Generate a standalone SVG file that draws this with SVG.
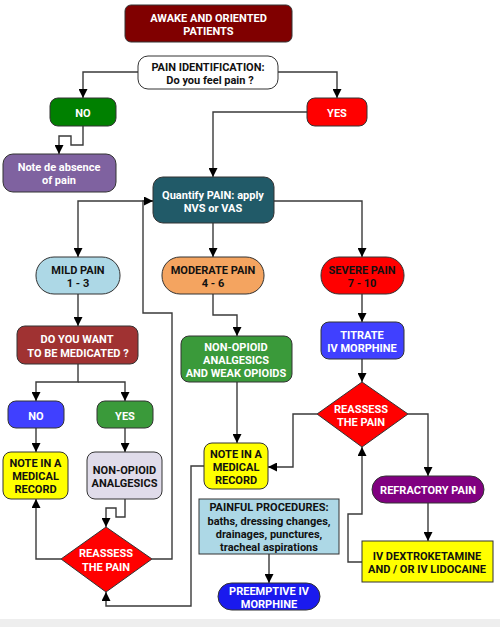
<svg xmlns="http://www.w3.org/2000/svg" width="500" height="627" viewBox="0 0 500 627">
<style>
text{font-family:Roboto,"Liberation Sans",sans-serif;font-weight:bold;font-size:11px;text-anchor:middle}
.w{fill:#fff}.k{fill:#111}
.n{stroke:#333;stroke-width:1}
.c{fill:none;stroke:#3a3a3a;stroke-width:1.4}
</style>
<defs>
<marker id="a" viewBox="0 0 10 10" refX="10" refY="5" markerWidth="9" markerHeight="9" markerUnits="userSpaceOnUse" orient="auto"><path d="M0,0 L10,5 L0,10 z" fill="#000"/></marker>
</defs>
<rect width="500" height="627" fill="#fff"/>
<rect y="619" width="500" height="8" fill="#eeeeee"/>
<g id="connectors">
<path class="c" d="M138,72 H83 V98" marker-end="url(#a)"/>
<path class="c" d="M278,72 H337 V98" marker-end="url(#a)"/>
<path class="c" d="M83,126 V145 H71 V136 H59 V154" marker-end="url(#a)"/>
<path class="c" d="M307,112 H213 V177" marker-end="url(#a)"/>
<path class="c" d="M153,201 H78 V257" marker-end="url(#a)"/>
<path class="c" d="M152,559 H172 V313 H143 V201 H153" marker-end="url(#a)"/>
<path class="c" d="M274,201 H362 V257" marker-end="url(#a)"/>
<path class="c" d="M213,223 V257" marker-end="url(#a)"/>
<path class="c" d="M78,294 V326" marker-end="url(#a)"/>
<path class="c" d="M213,294 V315 H237 V336" marker-end="url(#a)"/>
<path class="c" d="M362,294 V322" marker-end="url(#a)"/>
<path class="c" d="M362,359 V382" marker-end="url(#a)"/>
<path class="c" d="M78,364 V382 H36 V401" marker-end="url(#a)"/>
<path class="c" d="M78,382 H125 V401" marker-end="url(#a)"/>
<path class="c" d="M36,428 V452" marker-end="url(#a)"/>
<path class="c" d="M125,428 V452" marker-end="url(#a)"/>
<path class="c" d="M125,499 V517 H116 V508 H106 V527" marker-end="url(#a)"/>
<path class="c" d="M61,559 H36 V499" marker-end="url(#a)"/>
<path class="c" d="M204,466 H191 V606 H106 V592" marker-end="url(#a)"/>
<path class="c" d="M237,382 V443" marker-end="url(#a)"/>
<path class="c" d="M317,414 H293 V467 H268" marker-end="url(#a)"/>
<path class="c" d="M408,414 H428 V476" marker-end="url(#a)"/>
<path class="c" d="M428,503 V541" marker-end="url(#a)"/>
<path class="c" d="M362,562 H348 V514 H362 V447" marker-end="url(#a)"/>
<path class="c" d="M269,554 V583" marker-end="url(#a)"/>
</g>
<g id="awake"><rect class="n" x="125" y="5" width="167" height="37" rx="6" fill="#800000"/><text class="w" x="208.5" y="22">AWAKE AND ORIENTED</text><text class="w" x="208.5" y="35">PATIENTS</text></g>
<g id="painid"><rect class="n" x="138" y="56" width="140" height="33" rx="10" fill="#fff"/><text class="k" x="208" y="71">PAIN IDENTIFICATION:</text><text class="k" x="210" y="84">Do you feel pain ?</text></g>
<g id="no1"><rect class="n" x="50" y="98" width="66" height="28" rx="8" fill="#008000"/><text class="w" x="83" y="117">NO</text></g>
<g id="yes1"><rect class="n" x="307" y="98" width="60" height="28" rx="8" fill="#ff0000"/><text class="w" x="337" y="117">YES</text></g>
<g id="absence"><rect class="n" x="3" y="154" width="113" height="38" rx="10" fill="#7f62a0"/><text class="w" x="59" y="171">Note de absence</text><text class="w" x="59" y="184">of pain</text></g>
<g id="quantify"><rect class="n" x="153" y="177" width="121" height="46" rx="10" fill="#215a68"/><text class="w" x="213" y="199">Quantify PAIN: apply</text><text class="w" x="213" y="212">NVS or VAS</text></g>
<g id="mild"><rect class="n" x="36" y="257" width="84" height="37" rx="18" fill="#add8e6"/><text class="k" x="78" y="274">MILD PAIN</text><text class="k" x="78" y="287">1 - 3</text></g>
<g id="moderate"><rect class="n" x="162" y="257" width="102" height="37" rx="18" fill="#f4a460"/><text class="k" x="213" y="274">MODERATE PAIN</text><text class="k" x="213" y="287">4 - 6</text></g>
<g id="severe"><rect class="n" x="321" y="257" width="83" height="37" rx="18" fill="#ff0000"/><text class="k" x="362" y="274">SEVERE PAIN</text><text class="k" x="362" y="287">7 - 10</text></g>
<g id="wantmed"><rect class="n" x="17" y="326" width="121" height="38" rx="8" fill="#a03232"/><text class="w" x="77" y="343">DO YOU WANT</text><text class="w" x="78" y="357">TO BE MEDICATED ?</text></g>
<g id="nonopweak"><rect class="n" x="181" y="336" width="111" height="46" rx="8" fill="#3a9a3a"/><text class="w" x="236" y="351">NON-OPIOID</text><text class="w" x="236" y="364">ANALGESICS</text><text class="w" x="236" y="377">AND WEAK OPIOIDS</text></g>
<g id="titrate"><rect class="n" x="321" y="322" width="83" height="37" rx="8" fill="#4040ff"/><text class="w" x="362" y="339">TITRATE</text><text class="w" x="362" y="352">IV MORPHINE</text></g>
<g id="no2"><rect class="n" x="8" y="401" width="56" height="27" rx="8" fill="#4040ff"/><text class="w" x="36" y="420">NO</text></g>
<g id="yes2"><rect class="n" x="97" y="401" width="56" height="27" rx="8" fill="#3a9a3a"/><text class="w" x="125" y="420">YES</text></g>
<g id="note1"><rect class="n" x="3" y="452" width="65" height="47" rx="8" fill="#ffff00"/><text class="k" x="35.5" y="467">NOTE IN A</text><text class="k" x="35.5" y="480">MEDICAL</text><text class="k" x="35.5" y="493">RECORD</text></g>
<g id="nonop"><rect class="n" x="87" y="452" width="75" height="47" rx="8" fill="#e0dcea"/><text class="k" x="124.5" y="474">NON-OPIOID</text><text class="k" x="124.5" y="487">ANALGESICS</text></g>
<g id="reassess1"><path class="n" d="M106,527 L152,559 L106,592 L61,559 Z" fill="#ff0000"/><text class="w" x="106" y="557">REASSESS</text><text class="w" x="106" y="571">THE PAIN</text></g>
<g id="note2"><rect class="n" x="204" y="443" width="64" height="46" rx="8" fill="#ffff00"/><text class="k" x="236" y="458">NOTE IN A</text><text class="k" x="236" y="471">MEDICAL</text><text class="k" x="236" y="484">RECORD</text></g>
<g id="reassess2"><path class="n" d="M362,382 L408,414 L362,447 L317,414 Z" fill="#ff0000"/><text class="w" x="361" y="413">REASSESS</text><text class="w" x="361" y="426">THE PAIN</text></g>
<g id="refractory"><rect class="n" x="372" y="476" width="112" height="27" rx="13.5" fill="#800080"/><text class="w" x="428" y="494">REFRACTORY PAIN</text></g>
<g id="ivdextro"><rect class="n" x="362" y="541" width="131" height="41" fill="#ffff00"/><text class="k" x="427" y="560">IV DEXTROKETAMINE</text><text class="k" x="427" y="573">AND / OR IV LIDOCAINE</text></g>
<g id="painful"><rect class="n" x="199" y="499" width="140" height="55" fill="#add8e6"/><text class="k" x="269" y="511">PAINFUL PROCEDURES:</text><text class="k" x="269" y="525">baths, dressing changes,</text><text class="k" x="269" y="538">drainages, punctures,</text><text class="k" x="269" y="551">tracheal aspirations</text></g>
<g id="preemptive"><rect class="n" x="218" y="583" width="102" height="27" rx="13.5" fill="#1a1aee"/><text class="w" x="269" y="595">PREEMPTIVE IV</text><text class="w" x="269" y="608">MORPHINE</text></g>
</svg>
